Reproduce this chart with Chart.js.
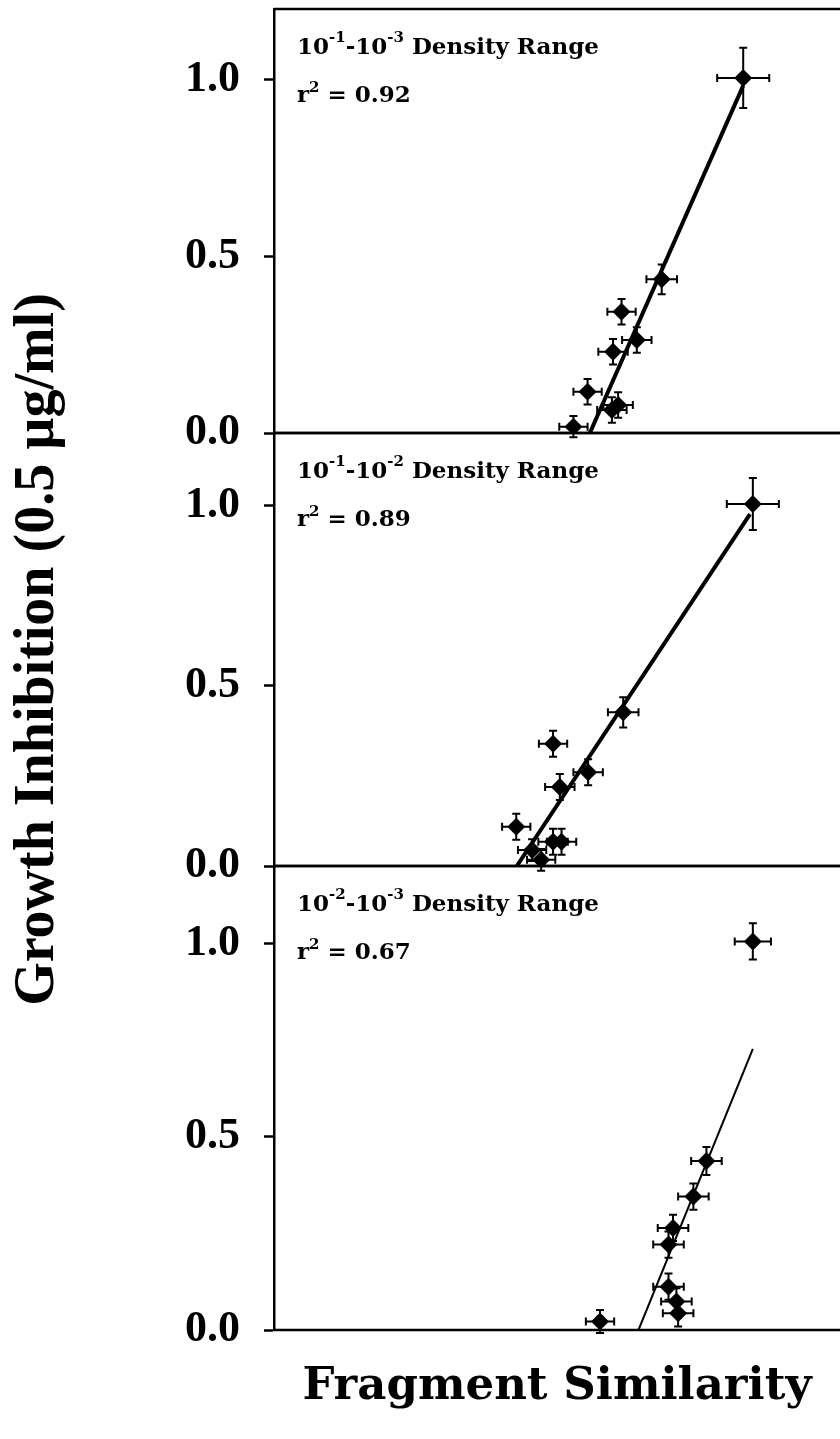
<!DOCTYPE html>
<html>
<head>
<meta charset="utf-8">
<script src="https://cdn.jsdelivr.net/npm/chart.js@4.4.1/dist/chart.umd.min.js"></script>
<style>
  html, body { margin: 0; padding: 0; background: #fff; }
  canvas { display: block; }
</style>
</head>
<body>
<canvas id="fig" width="840" height="1439"></canvas>
<script>
// density ranges shown in the three stacked panels (top to bottom)
const rangeExps = [['-1', '-3'], ['-1', '-2'], ['-2', '-3']];
const rSquared = ['0.92', '0.89', '0.67'];
const yTicks = [0, 0.5, 1.0];

// 10^-1 - 10^-3
const simA = [0.829, 0.685, 0.614, 0.641, 0.599, 0.554, 0.597, 0.608, 0.529];
const inhA = [1.005, 0.435, 0.343, 0.263, 0.230, 0.117, 0.065, 0.079, 0.018];
const simErrA = [0.046, 0.027, 0.025, 0.026, 0.026, 0.025, 0.026, 0.026, 0.025];
const inhErrA = [0.085, 0.042, 0.036, 0.036, 0.036, 0.036, 0.036, 0.036, 0.030];
const fitSimA = [0.558, 0.829];
const fitInhA = [0, 0.983];

// 10^-1 - 10^-2
const simB = [0.846, 0.617, 0.493, 0.555, 0.505, 0.428, 0.508, 0.493, 0.456, 0.472];
const inhB = [1.003, 0.426, 0.339, 0.260, 0.219, 0.109, 0.067, 0.067, 0.044, 0.017];
const simErrB = [0.046, 0.027, 0.025, 0.026, 0.026, 0.025, 0.026, 0.026, 0.025, 0.025];
const inhErrB = [0.072, 0.042, 0.036, 0.036, 0.036, 0.036, 0.036, 0.036, 0.030, 0.030];
const fitSimB = [0.429, 0.841];
const fitInhB = [0, 0.975];

// 10^-2 - 10^-3
const simC = [0.846, 0.764, 0.741, 0.705, 0.697, 0.697, 0.711, 0.714, 0.576];
const inhC = [1.005, 0.437, 0.345, 0.264, 0.221, 0.112, 0.074, 0.043, 0.022];
const simErrC = [0.032, 0.027, 0.027, 0.027, 0.027, 0.027, 0.027, 0.027, 0.025];
const inhErrC = [0.047, 0.036, 0.034, 0.034, 0.034, 0.034, 0.034, 0.034, 0.030];
const fitSimC = [0.644, 0.846];
const fitInhC = [0, 0.727];

const panels = [
  { axis: 'yA', sim: simA, inh: inhA, sErr: simErrA, iErr: inhErrA, fx: fitSimA, fy: fitInhA, fitWidth: 4 },
  { axis: 'yB', sim: simB, inh: inhB, sErr: simErrB, iErr: inhErrB, fx: fitSimB, fy: fitInhB, fitWidth: 4 },
  { axis: 'yC', sim: simC, inh: inhC, sErr: simErrC, iErr: inhErrC, fx: fitSimC, fy: fitInhC, fitWidth: 2 }
];

const datasets = [];
panels.forEach(p => {
  datasets.push({
    type: 'scatter',
    yAxisID: p.axis,
    data: p.fx.map((x, i) => ({ x: x, y: p.fy[i] })),
    showLine: true,
    borderColor: '#000',
    borderWidth: p.fitWidth,
    pointRadius: 0
  });
  datasets.push({
    type: 'scatter',
    yAxisID: p.axis,
    data: p.sim.map((x, i) => ({ x: x, y: p.inh[i], xErr: p.sErr[i], yErr: p.iErr[i] })),
    pointStyle: 'rectRot',
    pointRadius: 9,
    backgroundColor: '#000',
    borderWidth: 0,
    errorBars: true
  });
});

const tickFont = { family: 'Liberation Serif', size: 44, weight: 'bold' };

// no extra room for half tick labels, the panels sit edge to edge
function noPadding(s) {
  s.paddingTop = 0;
  s.paddingBottom = 0;
  s.paddingLeft = 0;
  s.paddingRight = 0;
}

function panelAxis(weight, stackWeight, withTitle) {
  return {
    type: 'linear',
    position: 'left',
    stack: 'panels',
    stackWeight: stackWeight,
    weight: weight,
    min: 0,
    max: 1.2,
    afterBuildTicks: s => { s.ticks = yTicks.map(v => ({ value: v })); },
    afterFit: s => { s.width = 274; noPadding(s); },
    ticks: {
      color: '#000',
      font: tickFont,
      padding: 24,
      callback: v => v.toFixed(1)
    },
    grid: { drawOnChartArea: false, tickLength: 10, tickColor: '#000', tickWidth: 2.5 },
    border: { display: true, color: '#000', width: 2.5 },
    title: {
      display: withTitle,
      text: 'Growth Inhibition (0.5 µg/ml)',
      color: '#000',
      font: { family: 'Liberation Serif', size: 56, weight: 'bold' },
      padding: { top: 5, bottom: 0 }
    }
  };
}

// horizontal frame lines at the bottom and top of every panel
const framePlugin = {
  id: 'frame',
  beforeDatasetsDraw(chart) {
    const ctx = chart.ctx;
    const area = chart.chartArea;
    ctx.save();
    ctx.strokeStyle = '#000';
    ctx.lineWidth = 2.5;
    panels.forEach(p => {
      const s = chart.scales[p.axis];
      [s.min, s.max].forEach(v => {
        const y = s.getPixelForValue(v);
        ctx.beginPath();
        ctx.moveTo(area.left, y);
        ctx.lineTo(chart.width, y);
        ctx.stroke();
      });
    });
    ctx.restore();
  }
};

// x and y error bars with end caps
const errorBarPlugin = {
  id: 'errorBars',
  beforeDatasetsDraw(chart) {
    const ctx = chart.ctx;
    const xs = chart.scales.x;
    ctx.save();
    ctx.strokeStyle = '#000';
    ctx.lineWidth = 2;
    chart.data.datasets.forEach(ds => {
      if (!ds.errorBars) return;
      const ys = chart.scales[ds.yAxisID];
      const cap = 4;
      ds.data.forEach(d => {
        const cx = xs.getPixelForValue(d.x);
        const cy = ys.getPixelForValue(d.y);
        const x0 = xs.getPixelForValue(d.x - d.xErr);
        const x1 = xs.getPixelForValue(d.x + d.xErr);
        const y0 = ys.getPixelForValue(d.y - d.yErr);
        const y1 = ys.getPixelForValue(d.y + d.yErr);
        ctx.beginPath();
        ctx.moveTo(x0, cy); ctx.lineTo(x1, cy);
        ctx.moveTo(x0, cy - cap); ctx.lineTo(x0, cy + cap);
        ctx.moveTo(x1, cy - cap); ctx.lineTo(x1, cy + cap);
        ctx.moveTo(cx, y0); ctx.lineTo(cx, y1);
        ctx.moveTo(cx - cap, y0); ctx.lineTo(cx + cap, y0);
        ctx.moveTo(cx - cap, y1); ctx.lineTo(cx + cap, y1);
        ctx.stroke();
      });
    });
    ctx.restore();
  }
};

// "10^a-10^b Density Range" and r^2 in the corner of each panel
const labelPlugin = {
  id: 'panelLabels',
  afterDraw(chart) {
    const ctx = chart.ctx;
    const big = 'bold 23px "DejaVu Serif"';
    const small = 'bold 15px "DejaVu Serif"';
    const runs = (x, y, parts) => {
      parts.forEach(([text, font, dy]) => {
        ctx.font = font;
        ctx.fillText(text, x, y + dy);
        x += ctx.measureText(text).width;
      });
    };
    ctx.save();
    ctx.fillStyle = '#000';
    ctx.textBaseline = 'alphabetic';
    ctx.textAlign = 'left';
    panels.forEach((p, i) => {
      const top = chart.scales[p.axis].top;
      const x = chart.chartArea.left + 23;
      runs(x, top + 45, [
        ['10', big, 0], [rangeExps[i][0], small, -12],
        ['-10', big, 0], [rangeExps[i][1], small, -12],
        [' Density Range', big, 0]
      ]);
      runs(x, top + 93, [
        ['r', big, 0], ['2', small, -10], [' = ' + rSquared[i], big, 0]
      ]);
    });
    ctx.restore();
  }
};

new Chart(document.getElementById('fig'), {
  type: 'scatter',
  data: { datasets: datasets },
  options: {
    responsive: false,
    animation: false,
    devicePixelRatio: 1,
    layout: { autoPadding: false, padding: { top: 9, left: 0, right: 0, bottom: 0 } },
    plugins: { legend: { display: false }, tooltip: { enabled: false } },
    scales: {
      x: {
        type: 'linear',
        min: 0,
        max: 1,
        afterFit: s => { s.height = 109; noPadding(s); },
        ticks: { display: false },
        grid: { display: false },
        border: { display: false },
        title: {
          display: true,
          text: 'Fragment Similarity',
          color: '#000',
          font: { family: 'DejaVu Serif', size: 45, weight: 'bold' },
          padding: { top: 0, bottom: 25 }
        }
      },
      yA: panelAxis(3, 424, false),
      yB: panelAxis(2, 433, true),
      yC: panelAxis(1, 464, false)
    }
  },
  plugins: [framePlugin, errorBarPlugin, labelPlugin]
});
</script>
</body>
</html>
